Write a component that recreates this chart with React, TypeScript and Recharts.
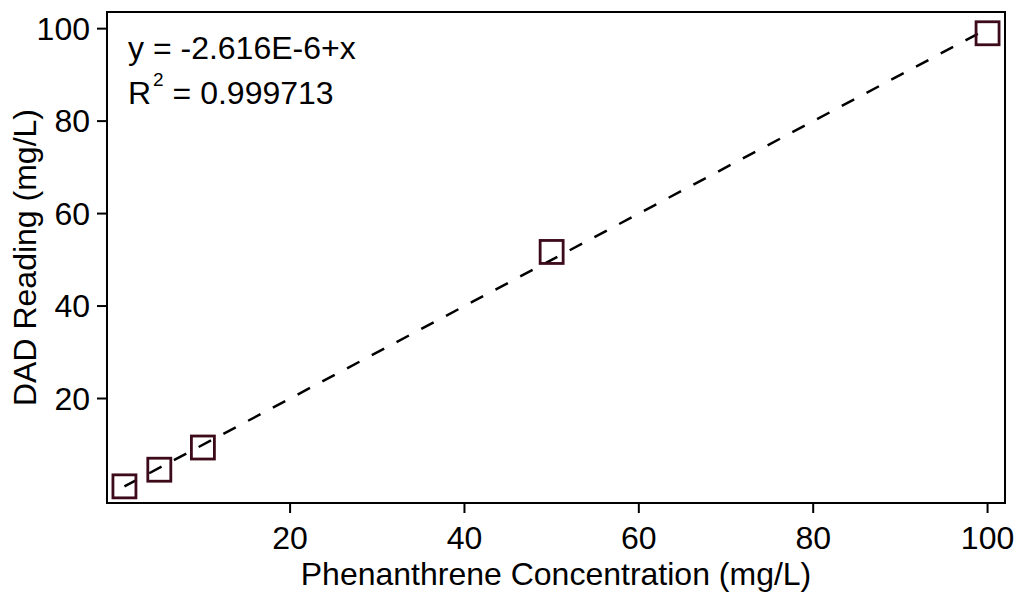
import React from 'react';
import {
  ScatterChart,
  Scatter,
  XAxis,
  YAxis,
  ReferenceLine,
  ReferenceArea,
  Customized,
} from 'recharts';

// the chart fills the whole window, so drop the default body margin
if (typeof document !== 'undefined') document.body.style.margin = '0';

// calibration standards (mg/L) and detector readings
const concentrations = [1, 5, 10, 50, 100];
const readings = [1.0, 4.6, 9.4, 51.7, 99.0];

// fitted line: y = intercept + slope * x
const intercept = -2.616e-6;
const slope = 1;
const rSquared = '0.999713';

const xTicks = [20, 40, 60, 80, 100];
const yTicks = [20, 40, 60, 80, 100];
const xDomain = [-1, 102];
const yDomain = [-2.6, 103.6];

const points = concentrations.map((c, i) => ({ x: c, y: readings[i] }));
const fitStart = concentrations[0];
const fitEnd = concentrations[concentrations.length - 1];

const FONT = '"Liberation Sans", Arial, sans-serif';
const MARKER = '#3d0a1a';

const SquareMarker = (props: any) => {
  const { cx, cy } = props;
  const s = 23;
  return (
    <rect
      x={cx - s / 2}
      y={cy - s / 2}
      width={s}
      height={s}
      fill="none"
      stroke={MARKER}
      strokeWidth={2.8}
    />
  );
};

// equation box and the y axis title
const Annotations = () => (
  <g fontFamily={FONT} fill="#000" fontSize={32}>
    <text x={128} y={59}>y = -2.616E-6+x</text>
    <text x={128} y={104}>
      R
      <tspan dx={2} dy={-18} fontSize={19}>2</tspan>
      <tspan dy={18}> = {rSquared}</tspan>
    </text>
    <text transform="rotate(-90)" x={-257.5} y={36} textAnchor="middle">
      DAD Reading (mg/L)
    </text>
  </g>
);

export default function App() {
  const tickStyle = { fontSize: 32, fill: '#000', fontFamily: FONT };
  return (
    <div style={{ width: 1016, height: 594 }}>
      <ScatterChart
        width={1016}
        height={594}
        margin={{ top: 12, right: 11, bottom: 0, left: 0 }}
      >
        <XAxis
          type="number"
          dataKey="x"
          domain={xDomain}
          ticks={xTicks}
          allowDataOverflow
          height={91}
          tickSize={10}
          tickMargin={13}
          tick={tickStyle}
          stroke="#000"
          strokeWidth={2}
          label={{
            value: 'Phenanthrene Concentration (mg/L)',
            position: 'insideBottom',
            offset: 9,
            style: { fontSize: 32, fill: '#000', fontFamily: FONT },
          }}
        />
        <YAxis
          type="number"
          dataKey="y"
          domain={yDomain}
          ticks={yTicks}
          allowDataOverflow
          width={107}
          tickSize={10}
          tickMargin={7}
          tick={tickStyle}
          stroke="#000"
          strokeWidth={2}
        />
        <ReferenceArea
          x1={xDomain[0]}
          x2={xDomain[1]}
          y1={yDomain[0]}
          y2={yDomain[1]}
          fill="none"
          stroke="#000"
          strokeWidth={2}
          fillOpacity={0}
        />
        <ReferenceLine
          segment={[
            { x: fitStart, y: intercept + slope * fitStart },
            { x: fitEnd, y: intercept + slope * fitEnd },
          ]}
          stroke="#000"
          strokeWidth={2.5}
          strokeDasharray="14 14"
        />
        <Scatter data={points} shape={SquareMarker} isAnimationActive={false} />
        <Customized component={Annotations} />
      </ScatterChart>
    </div>
  );
}
